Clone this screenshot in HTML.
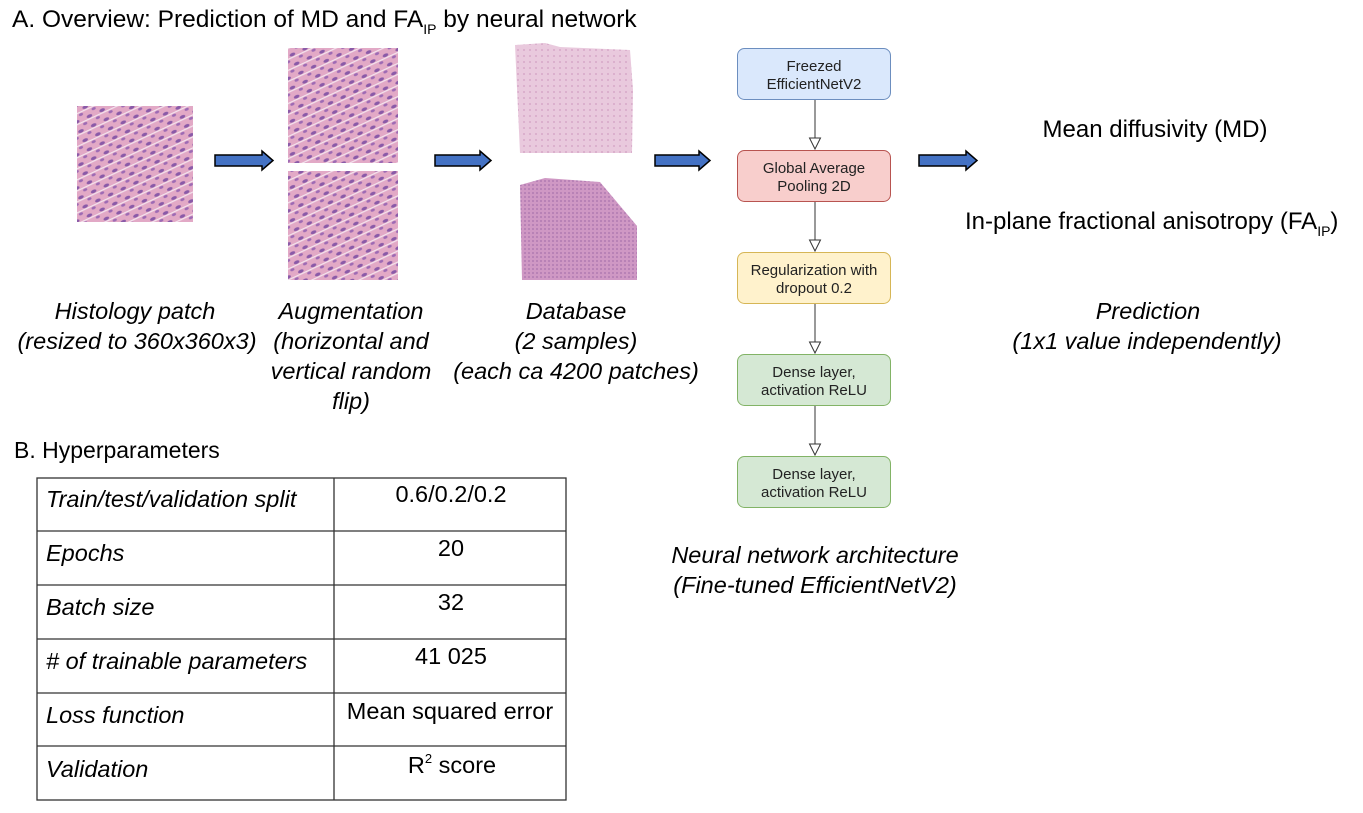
<!DOCTYPE html>
<html><head><meta charset="utf-8"><style>
html,body{margin:0;padding:0;background:#fff;}
svg{display:block;font-family:"Liberation Sans",Arial,sans-serif;}
</style></head><body>
<svg width="1363" height="813" viewBox="0 0 1363 813" xmlns="http://www.w3.org/2000/svg">
<defs>
<pattern id="tis" width="14" height="10" patternUnits="userSpaceOnUse" patternTransform="rotate(-25)">
<rect width="14" height="10" fill="#e2a9c6"/>
<ellipse cx="4" cy="3" rx="3" ry="1.6" fill="#8a5aa8"/>
<ellipse cx="11" cy="8" rx="2.2" ry="1.4" fill="#9d6ab4"/>
<rect x="0" y="5" width="14" height="1.2" fill="#f4e4ee"/>
</pattern>
<pattern id="db1" width="6" height="6" patternUnits="userSpaceOnUse">
<rect width="6" height="6" fill="#e9c9dd"/><circle cx="2" cy="2" r="1" fill="#d7a8c8"/>
</pattern>
<pattern id="db2" width="4" height="4" patternUnits="userSpaceOnUse">
<rect width="4" height="4" fill="#cf98c4"/><circle cx="1" cy="1" r="0.9" fill="#a772ac"/>
</pattern>
</defs>

<text x="12" y="27" font-size="24.5" fill="#000">A. Overview: Prediction of MD and FA<tspan font-size="14" dy="7">IP</tspan><tspan dy="-7"> by neural network</tspan></text>

<rect x="77" y="106" width="116" height="116" fill="url(#tis)"/>
<rect x="288" y="48" width="110" height="115" fill="url(#tis)"/>
<rect x="288" y="171" width="110" height="109" fill="url(#tis)"/>
<polygon points="515,45 545,43 560,47 630,50 633,90 632,153 520,153" fill="url(#db1)"/>
<polygon points="520,185 545,178 600,182 637,226 637,280 522,280" fill="url(#db2)"/>

<g fill="#4472c4" stroke="#000" stroke-width="1.5">
<path d="M215,155 L262,155 L262,151 L273,160.5 L262,170 L262,166 L215,166 Z"/>
<path d="M435,155 L480,155 L480,151 L491,160.5 L480,170 L480,166 L435,166 Z"/>
<path d="M655,155 L699,155 L699,151 L710,160.5 L699,170 L699,166 L655,166 Z"/>
<path d="M919,155 L966,155 L966,151 L977,160.5 L966,170 L966,166 L919,166 Z"/>
</g>

<g stroke="#333" stroke-width="1" fill="#fff">
<line x1="815" y1="100" x2="815" y2="138"/><path d="M809.5,138 L820.5,138 L815,149 Z"/>
<line x1="815" y1="202" x2="815" y2="240"/><path d="M809.5,240 L820.5,240 L815,251 Z"/>
<line x1="815" y1="304" x2="815" y2="342"/><path d="M809.5,342 L820.5,342 L815,353 Z"/>
<line x1="815" y1="406" x2="815" y2="444"/><path d="M809.5,444 L820.5,444 L815,455 Z"/>
</g>
<rect x="737.5" y="48.5" width="153" height="51" rx="7" fill="#dae8fc" stroke="#6c8ebf"/>
<rect x="737.5" y="150.5" width="153" height="51" rx="7" fill="#f8cecc" stroke="#b85450"/>
<rect x="737.5" y="252.5" width="153" height="51" rx="7" fill="#fff2cc" stroke="#d6b656"/>
<rect x="737.5" y="354.5" width="153" height="51" rx="7" fill="#d5e8d4" stroke="#82b366"/>
<rect x="737.5" y="456.5" width="153" height="51" rx="7" fill="#d5e8d4" stroke="#82b366"/>
<g font-size="15" fill="#222" text-anchor="middle">
<text x="814" y="71">Freezed</text><text x="814" y="89">EfficientNetV2</text>
<text x="814" y="173">Global Average</text><text x="814" y="191">Pooling 2D</text>
<text x="814" y="275">Regularization with</text><text x="814" y="293">dropout 0.2</text>
<text x="814" y="377">Dense layer,</text><text x="814" y="395">activation ReLU</text>
<text x="814" y="479">Dense layer,</text><text x="814" y="497">activation ReLU</text>
</g>

<g font-size="23.5" font-style="italic" text-anchor="middle" fill="#000">
<text x="135" y="319">Histology patch</text><text x="137" y="349">(resized to 360x360x3)</text>
<text x="351" y="319">Augmentation</text><text x="351" y="349">(horizontal and</text><text x="351" y="379">vertical random</text><text x="351" y="409">flip)</text>
<text x="576" y="319">Database</text><text x="576" y="349">(2 samples)</text><text x="576" y="379">(each ca 4200 patches)</text>
<text x="815" y="563">Neural network architecture</text><text x="815" y="593">(Fine-tuned EfficientNetV2)</text>
<text x="1148" y="319">Prediction</text><text x="1147" y="349">(1x1 value independently)</text>
</g>
<text x="1155" y="137" font-size="24" fill="#000" text-anchor="middle">Mean diffusivity (MD)</text>
<text x="965" y="229" font-size="24" fill="#000">In-plane fractional anisotropy (FA<tspan font-size="14" dy="7">IP</tspan><tspan dy="-7">)</tspan></text>

<text x="14" y="458" font-size="23" fill="#000">B. Hyperparameters</text>
<g stroke="#333" stroke-width="1.3" fill="none">
<rect x="37" y="478" width="529" height="322"/>
<line x1="334" y1="478" x2="334" y2="800"/>
<line x1="37" y1="531" x2="566" y2="531"/>
<line x1="37" y1="585" x2="566" y2="585"/>
<line x1="37" y1="639" x2="566" y2="639"/>
<line x1="37" y1="693" x2="566" y2="693"/>
<line x1="37" y1="746" x2="566" y2="746"/>
</g>
<g font-size="23.5" font-style="italic" fill="#000">
<text x="46" y="507">Train/test/validation split</text>
<text x="46" y="561">Epochs</text>
<text x="46" y="615">Batch size</text>
<text x="46" y="669">#  of trainable parameters</text>
<text x="46" y="723">Loss function</text>
<text x="46" y="777">Validation</text>
</g>
<g font-size="23.5" fill="#000" text-anchor="middle">
<text x="451" y="502">0.6/0.2/0.2</text>
<text x="451" y="556">20</text>
<text x="451" y="610">32</text>
<text x="451" y="664">41 025</text>
<text x="450" y="719">Mean squared error</text>
<text x="452" y="773">R<tspan font-size="13" dy="-10">2</tspan><tspan dy="10"> score</tspan></text>
</g>
</svg>
</body></html>
